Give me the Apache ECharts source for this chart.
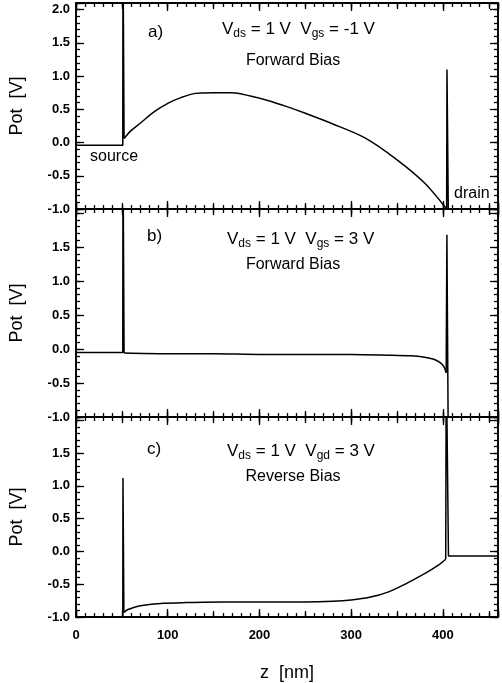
<!DOCTYPE html>
<html lang="en">
  <head>
    <meta charset="UTF-8" />
    <script src="https://cdn.jsdelivr.net/npm/echarts@6/dist/echarts.min.js"></script>
    <title>Pot vs z</title>
    <style>
      html,
      body {
        margin: 0;
        padding: 0;
        background: #fff;
      }
      #app {
        width: 502px;
        height: 683px;
      }
    </style>
  </head>
  <body>
    <div id="app"></div>

    <script>
      // x tick labels (nm) shown under the bottom panel
      const zTicks = [0, 100, 200, 300, 400];

      // panel a) Vds = 1 V, Vgs = -1 V, forward bias
      const aSrcZ = [0, 51, 51.2, 52.2, 52.4];
      const aSrcPot = [-0.04, -0.04, 3, 3, 0.06];
      const aChZ = [52.4, 60, 70, 85, 100, 115, 130, 150, 170, 190, 210, 230, 250, 280, 315, 350, 380, 404];
      const aChPot = [0.06, 0.18, 0.29, 0.46, 0.59, 0.68, 0.74, 0.75, 0.75, 0.7, 0.63, 0.54, 0.44, 0.28, 0.07, -0.26, -0.61, -1.0];
      const aDrZ = [404, 404.4, 405.4, 405.8, 460];
      const aDrPot = [-1.0, 1.1, 1.1, -1.0, -1.0];

      // panel b) Vds = 1 V, Vgs = 3 V, forward bias
      const bSrcZ = [0, 51, 51.2, 52.2, 52.4];
      const bSrcPot = [-0.05, -0.05, 3, 3, -0.06];
      const bChZ = [52.4, 100, 150, 200, 250, 300, 340, 365, 380, 390, 397, 401, 403.5];
      const bChPot = [-0.06, -0.07, -0.07, -0.08, -0.08, -0.08, -0.09, -0.1, -0.12, -0.15, -0.2, -0.26, -0.35];
      const bDrZ = [403.5, 404.3, 405.0, 405.6, 460];
      const bDrPot = [-0.35, 1.68, 1.68, -1.0, -1.0];

      // panel c) Vds = 1 V, Vgd = 3 V, reverse bias
      const cSrcZ = [0, 51, 51.2, 52.0, 52.2];
      const cSrcPot = [-1.0, -1.0, 1.12, 1.12, -0.93];
      const cChZ = [52.2, 56, 62, 70, 80, 95, 120, 160, 200, 250, 280, 300, 320, 340, 360, 380, 395, 403];
      const cChPot = [-0.93, -0.89, -0.86, -0.83, -0.81, -0.79, -0.78, -0.77, -0.77, -0.77, -0.76, -0.74, -0.7, -0.62, -0.49, -0.34, -0.21, -0.12];
      const cDrZ = [403, 403.6, 405.4, 406, 460];
      const cDrPot = [-0.12, 3, 3, -0.07, -0.07];

      const font = "'Liberation Sans', Arial, Helvetica, sans-serif";
      const chart = echarts.init(document.getElementById("app"));

      const panels = [
        { top: 3, height: 206, yMax: 2.1 },
        { top: 209, height: 208, yMax: 2.06 },
        { top: 417, height: 211, yMax: 2.05 },
      ];

      const zip = (xs, ys) => xs.map((x, i) => [x, ys[i]]);

      function axisBase(len) {
        return {
          axisLine: { show: true, onZero: false, lineStyle: { color: "#000", width: 1.6 } },
          axisTick: { show: true, inside: true, length: len, lineStyle: { color: "#000", width: 1.3 } },
          splitLine: { show: false },
          axisLabel: { show: false },
        };
      }

      const xAxis = [];
      const yAxis = [];
      const grid = [];

      panels.forEach((p, g) => {
        grid.push({ left: 76, right: 4, top: p.top, height: p.height });

        // bottom then top: 100 (long), 50 (mid), 10 (short)
        ["bottom", "top"].forEach((pos) => {
          [
            [100, 8],
            [50, 6],
            [10, 4],
          ].forEach(([iv, len]) => {
            const ax = Object.assign(axisBase(len), {
              type: "value",
              gridIndex: g,
              position: pos,
              min: 0,
              max: 460,
              interval: iv,
            });
            if (g === 2 && pos === "bottom" && iv === 100) {
              ax.axisLabel = {
                show: true,
                margin: 12,
                color: "#000",
                fontFamily: font,
                fontSize: 13,
                fontWeight: "bold",
                formatter: (v) => (zTicks.indexOf(v) >= 0 ? String(v) : ""),
              };
              ax.name = "z  [nm]";
              ax.nameLocation = "middle";
              ax.nameGap = 47;
              ax.nameTextStyle = { color: "#000", fontFamily: font, fontSize: 18 };
            }
            xAxis.push(ax);
          });
        });

        // left then right: 0.5 (long), 0.1 (short)
        ["left", "right"].forEach((pos) => {
          [
            [0.5, 8],
            [0.1, 4],
          ].forEach(([iv, len]) => {
            const ax = Object.assign(axisBase(len), {
              type: "value",
              gridIndex: g,
              position: pos,
              min: -1,
              max: p.yMax,
              interval: iv,
            });
            if (pos === "left" && iv === 0.5) {
              ax.axisLabel = {
                show: true,
                margin: 6,
                color: "#000",
                fontFamily: font,
                fontSize: 13,
                fontWeight: "bold",
                formatter: (v) => {
                  const r = Math.round(v * 2) / 2;
                  if (Math.abs(r - v) > 1e-6) return "";
                  if (g > 0 && r > 1.9) return "";
                  return r.toFixed(1);
                },
              };
              ax.name = "Pot  [V]";
              ax.nameLocation = "middle";
              ax.nameGap = 50;
              ax.nameTextStyle = { color: "#000", fontFamily: font, fontSize: 18 };
            }
            yAxis.push(ax);
          });
        });
      });

      function line(g, xs, ys, smooth) {
        return {
          type: "line",
          xAxisIndex: g * 6,
          yAxisIndex: g * 4,
          data: zip(xs, ys),
          showSymbol: false,
          symbol: "none",
          smooth: smooth ? 0.3 : false,
          clip: true,
          lineStyle: { color: "#000", width: 1.5 },
          silent: true,
          animation: false,
        };
      }

      const series = [
        line(0, aSrcZ, aSrcPot, false),
        line(0, aChZ, aChPot, true),
        line(0, aDrZ, aDrPot, false),
        line(1, bSrcZ, bSrcPot, false),
        line(1, bChZ, bChPot, true),
        line(1, bDrZ, bDrPot, false),
        line(2, cSrcZ, cSrcPot, false),
        line(2, cChZ, cChPot, true),
        line(2, cDrZ, cDrPot, false),
      ];

      const rich = {
        m: { fontSize: 17, fontFamily: font, color: "#000" },
        s: { fontSize: 12, fontFamily: font, color: "#000", padding: [9, 0, 0, 0] },
      };

      function txt(text, x, y, size, align) {
        return {
          type: "text",
          x: x,
          y: y,
          style: {
            text: text,
            fill: "#000",
            font: size + "px " + font,
            textAlign: align || "left",
            textVerticalAlign: "middle",
          },
        };
      }

      function vtxt(text, x, y) {
        return {
          type: "text",
          x: x,
          y: y,
          style: { text: text, rich: rich, textAlign: "left", textVerticalAlign: "middle" },
        };
      }

      const graphic = [
        txt("a)", 148, 32, 17),
        vtxt("{m|V}{s|ds}{m| = 1 V  V}{s|gs}{m| = -1 V}", 222, 29),
        txt("Forward Bias", 293, 61, 16, "center"),
        txt("source", 90, 157, 16),
        txt("drain", 454, 194, 16),

        txt("b)", 147, 236, 17),
        vtxt("{m|V}{s|ds}{m| = 1 V  V}{s|gs}{m| = 3 V}", 227, 239),
        txt("Forward Bias", 293, 265, 16, "center"),

        txt("c)", 147, 449, 17),
        vtxt("{m|V}{s|ds}{m| = 1 V  V}{s|gd}{m| = 3 V}", 227, 451),
        txt("Reverse Bias", 293, 477, 16, "center"),
      ];

      chart.setOption({
        animation: false,
        backgroundColor: "#fff",
        grid: grid,
        xAxis: xAxis,
        yAxis: yAxis,
        series: series,
        graphic: graphic,
      });
    </script>
  </body>
</html>
